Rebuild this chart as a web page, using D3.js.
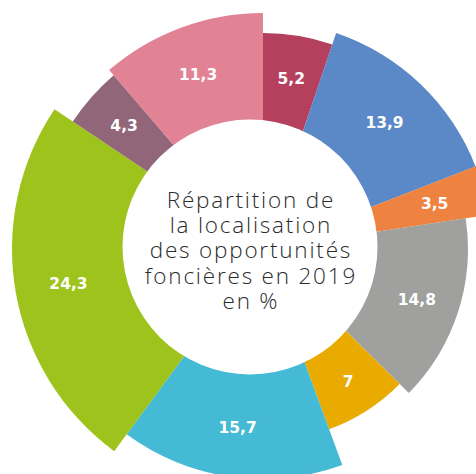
<!DOCTYPE html>
<html>
<head>
<meta charset="utf-8">
<script src="https://d3js.org/d3.v7.min.js"></script>
<style>
  body { margin: 0; background: #fff; }
</style>
</head>
<body>
<svg width="476" height="474"></svg>
<script>
// shares in %, clockwise from 12 o'clock
const categories = ["s1", "s2", "s3", "s4", "s5", "s6", "s7", "s8", "s9"];
const values = [5.2, 13.9, 3.5, 14.8, 7, 15.7, 24.3, 4.3, 11.3];
const colors = ["#B5405E", "#5B88C6", "#EE8241", "#A0A09F", "#E9AB00",
                "#44BAD4", "#9FC31D", "#916678", "#E18295"];
// each slice sticks out a different length
const outerR = [216, 228, 236, 205, 192, 230, 251, 229, 236];
const titleLines = ["Répartition de", "la localisation", "des opportunités",
                    "foncières en 2019", "en %"];

const svg = d3.select("svg");
const cx = 263, cy = 249;          // pie centre
const hx = 250, hy = 247, hr = 127.5; // white hole, slightly off centre

const fr = d3.formatLocale({decimal: ",", thousands: " ", grouping: [3], currency: ["", "€"]});
const fmt = fr.format("~r");

const pie = d3.pie().sort(null).value(d => d.v);
const rows = values.map((v, i) => ({v: v, cat: categories[i]}));
const arcs = pie(rows);

const arc = d3.arc()
    .innerRadius(0)
    .outerRadius(d => outerR[d.index]);

const g = svg.append("g").attr("transform", "translate(" + cx + "," + cy + ")");

g.selectAll("path")
    .data(arcs)
    .enter()
    .append("path")
    .attr("d", arc)
    .attr("fill", d => colors[d.index]);

// centre hole
svg.append("circle")
    .attr("cx", hx).attr("cy", hy).attr("r", hr)
    .attr("fill", "#fff");

// labels halfway between the hole edge and the outer edge
const wx = cx - hx, wy = cy - hy;
g.selectAll("text")
    .data(arcs)
    .enter()
    .append("text")
    .attr("transform", function(d) {
        const a = (d.startAngle + d.endAngle) / 2;
        const ux = Math.sin(a), uy = -Math.cos(a);
        const b = wx * ux + wy * uy;
        const t = -b + Math.sqrt(b * b - (wx * wx + wy * wy) + hr * hr);
        const r = (t + outerR[d.index]) / 2 + 2;
        return "translate(" + (r * ux) + "," + (r * uy) + ")";
    })
    .attr("text-anchor", "middle")
    .attr("dy", "0.36em")
    .style("font-family", "'DejaVu Sans', sans-serif")
    .style("font-weight", "bold")
    .style("font-size", "15.5px")
    .style("fill", "#fff")
    .text(d => fmt(d.data.v));

// title in the hole, one text block
const ls = 1.8;
svg.append("text")
    .attr("text-anchor", "middle")
    .style("font-family", "'Open Sans', sans-serif")
    .style("font-weight", 300)
    .style("font-size", "22.5px")
    .style("letter-spacing", ls + "px")
    .style("fill", "#2b2b2b")
    .selectAll("tspan")
    .data(titleLines)
    .enter()
    .append("tspan")
    .attr("x", hx + ls / 2)
    .attr("y", (d, i) => 208 + i * 25.2)
    .text(d => d);
</script>
</body>
</html>
